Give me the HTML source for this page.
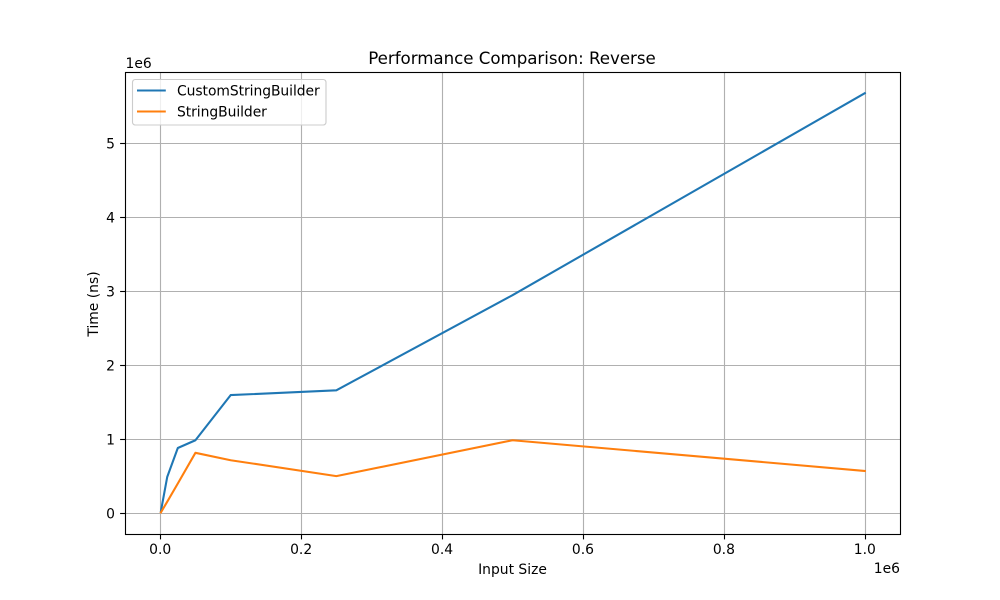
<!DOCTYPE html>
<html>
<head>
<meta charset="utf-8">
<title>Performance Comparison: Reverse</title>
<style>
html,body{margin:0;padding:0;background:#fff;}
svg{display:block;}
text{font-family:"DejaVu Sans","Liberation Sans",sans-serif;fill:#000;}
</style>
</head>
<body>
<svg id="chart" xmlns="http://www.w3.org/2000/svg" width="1000" height="600" viewBox="0 0 1000 600">
  <rect x="0" y="0" width="1000" height="600" fill="#fff"/>
  <rect x="125" y="72" width="775" height="462" fill="#fff"/>
  <g id="grid"></g>
  <g id="series"></g>
  <g id="ticks"></g>
  <rect x="125.5" y="72.5" width="775" height="462" fill="none" stroke="#000" stroke-width="1.11"/>
  <text x="512" y="64" font-size="16.67" letter-spacing="-0.03" text-anchor="middle">Performance Comparison: Reverse</text>
  <text x="512.5" y="574" font-size="13.89" text-anchor="middle">Input Size</text>
  <text transform="translate(98 304) rotate(-90)" font-size="13.89" text-anchor="middle">Time (ns)</text>
  <text x="900" y="573" font-size="13.89" text-anchor="end">1e6</text>
  <text x="125.5" y="68" font-size="13.89">1e6</text>
  <g>
    <rect x="132.5" y="79.5" width="193.5" height="45.5" rx="2.8" ry="2.8" fill="#fff" fill-opacity="0.8" stroke="#ccc" stroke-width="1.11"/>
    <line x1="137" y1="90.5" x2="165.8" y2="90.5" stroke="#1f77b4" stroke-width="2.08"/>
    <text x="177" y="95.5" font-size="13.89" letter-spacing="-0.05">CustomStringBuilder</text>
    <line x1="137" y1="111.5" x2="165.8" y2="111.5" stroke="#ff7f0e" stroke-width="2.08"/>
    <text x="177" y="116.5" font-size="13.89" letter-spacing="-0.05">StringBuilder</text>
  </g>
</svg>
<script>
const inputSizes = [1000, 10000, 25000, 50000, 100000, 250000, 500000, 1000000];
const customStringBuilderTimes = [30000, 495000, 885000, 990000, 1600000, 1665000, 2950000, 5680000];
const stringBuilderTimes = [15000, 160000, 405000, 820000, 720000, 505000, 990000, 575000];
const xTickValues = [0, 200000, 400000, 600000, 800000, 1000000];
const xTickLabels = ["0.0", "0.2", "0.4", "0.6", "0.8", "1.0"];
const yTickValues = [0, 1000000, 2000000, 3000000, 4000000, 5000000];
const yTickLabels = ["0", "1", "2", "3", "4", "5"];

const svgNS = "http://www.w3.org/2000/svg";
const gridLayer = document.getElementById("grid");
const tickLayer = document.getElementById("ticks");
const seriesLayer = document.getElementById("series");

function xScale(v) { return 160.2 + (v / 1000000) * 704.6; }
function yScale(v) { return 513.5 - (v / 1000000) * 74; }

function makeLine(x1, y1, x2, y2, stroke, width) {
  const el = document.createElementNS(svgNS, "line");
  el.setAttribute("x1", x1);
  el.setAttribute("y1", y1);
  el.setAttribute("x2", x2);
  el.setAttribute("y2", y2);
  el.setAttribute("stroke", stroke);
  el.setAttribute("stroke-width", width);
  return el;
}

function makeLabel(x, y, anchor, content) {
  const el = document.createElementNS(svgNS, "text");
  el.setAttribute("x", x);
  el.setAttribute("y", y);
  el.setAttribute("font-size", "13.89");
  el.setAttribute("text-anchor", anchor);
  el.textContent = content;
  return el;
}

xTickValues.forEach(function (value, i) {
  const px = Math.round(xScale(value)) + 0.5;
  const grid = makeLine(px, 72, px, 534, "#b0b0b0", 1.11);
  
  
  gridLayer.appendChild(grid);
  const tick = makeLine(px, 534, px, 539.4, "#000", 1.11);
  
  
  tickLayer.appendChild(tick);
  const label = makeLabel(xScale(value), 554, "middle", xTickLabels[i]);
  
  
  tickLayer.appendChild(label);
});

yTickValues.forEach(function (value, i) {
  const py = yScale(value);
  const grid = makeLine(125, py, 900, py, "#b0b0b0", 1.11);
  
  
  gridLayer.appendChild(grid);
  const tick = makeLine(120.1, py, 125, py, "#000", 1.11);
  
  
  tickLayer.appendChild(tick);
  const label = makeLabel(115, py + 5.2, "end", yTickLabels[i]);
  
  
  tickLayer.appendChild(label);
});

function toPoints(values) {
  return values.map(function (v, i) {
    return xScale(inputSizes[i]).toFixed(2) + "," + yScale(v).toFixed(2);
  }).join(" ");
}

const customLine = document.createElementNS(svgNS, "polyline");
customLine.setAttribute("points", toPoints(customStringBuilderTimes));
customLine.setAttribute("fill", "none");
customLine.setAttribute("stroke", "#1f77b4");
customLine.setAttribute("stroke-width", "2.08");
customLine.setAttribute("stroke-linecap", "square");
customLine.setAttribute("stroke-linejoin", "round");


seriesLayer.appendChild(customLine);

const builderLine = document.createElementNS(svgNS, "polyline");
builderLine.setAttribute("points", toPoints(stringBuilderTimes));
builderLine.setAttribute("fill", "none");
builderLine.setAttribute("stroke", "#ff7f0e");
builderLine.setAttribute("stroke-width", "2.08");
builderLine.setAttribute("stroke-linecap", "square");
builderLine.setAttribute("stroke-linejoin", "round");


seriesLayer.appendChild(builderLine);
</script>
</body>
</html>
